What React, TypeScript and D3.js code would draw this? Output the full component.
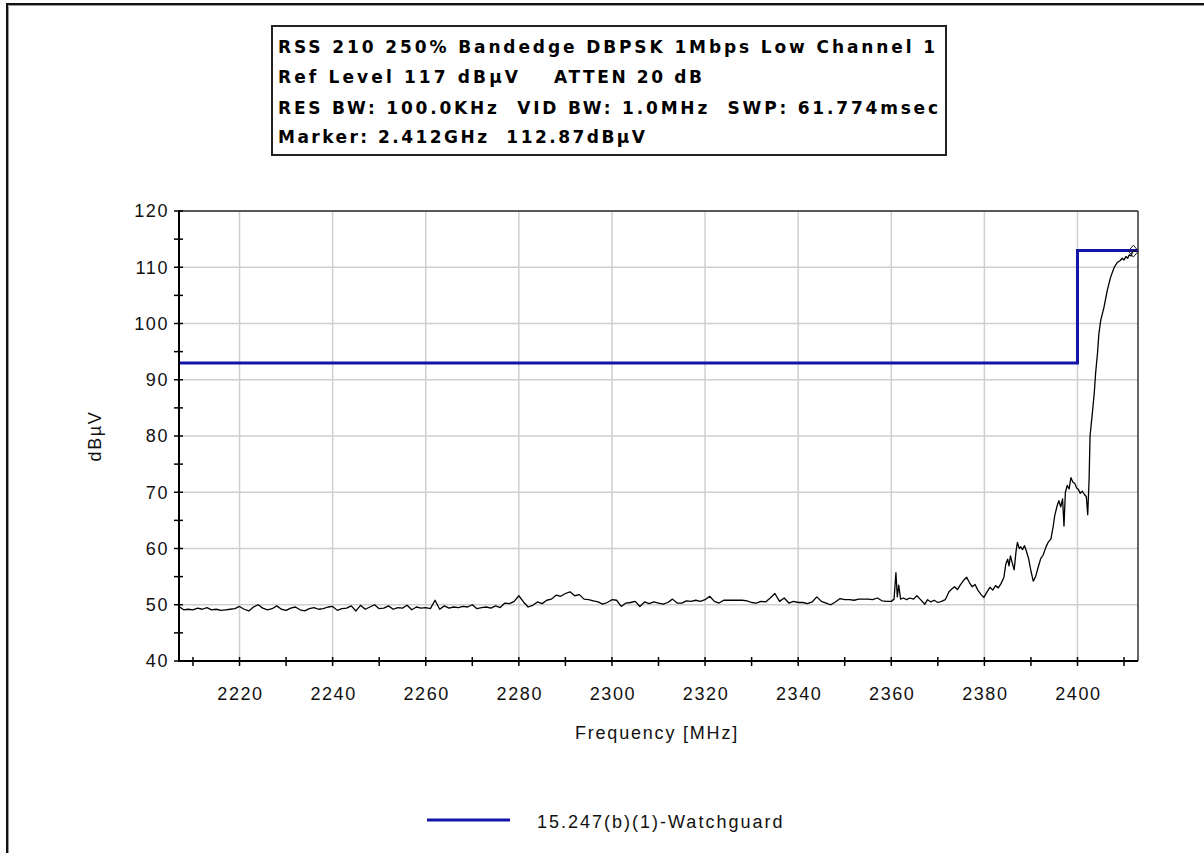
import React from "react";
import * as d3 from "d3";

// ---- Data ----
const titleLines = [
  "RSS 210 250% Bandedge DBPSK 1Mbps Low Channel 1",
  "Ref Level 117 dBµV",
  "ATTEN 20 dB",
  "RES BW: 100.0KHz\u00a0\u00a0VID BW: 1.0MHz\u00a0\u00a0SWP: 61.774msec",
  "Marker: 2.412GHz\u00a0\u00a0112.87dBµV",
];

const xTicksMajor = [2220, 2240, 2260, 2280, 2300, 2320, 2340, 2360, 2380, 2400];
const xTicksMinor = [2210, 2220, 2230, 2240, 2250, 2260, 2270, 2280, 2290, 2300, 2310, 2320, 2330, 2340, 2350, 2360, 2370, 2380, 2390, 2400, 2410];
const yTicksMajor = [40, 50, 60, 70, 80, 90, 100, 110, 120];
const yTicksMinor = [45, 55, 65, 75, 85, 95, 105, 115];

const limitFreqs = [2207, 2400, 2400, 2413];
const limitLevels = [93, 93, 113, 113];
const limitName = "15.247(b)(1)-Watchguard";

const markerFreq = 2412;
const markerLevel = 112.87;

// trace 2207..2360 MHz, 1 MHz step
const noiseStart = 2207;
const noiseLevels = [
  49.7, 49.1, 49.2, 49.1, 49.4, 49.2, 49.5, 49.1, 49.2, 49.0, 49.1, 49.2, 49.3,
  49.7, 49.2, 48.9, 49.6, 50.0, 49.4, 49.1, 49.3, 49.8, 49.2, 49.0, 49.4, 49.6, 49.1, 48.9, 49.3, 49.5, 49.2, 49.3, 49.6,
  49.7, 49.0, 49.3, 49.4, 49.8, 48.9, 49.9, 49.2, 49.6, 50.0, 49.3, 49.4, 49.8, 49.2, 49.5, 49.4, 49.9, 49.1, 49.6, 49.4,
  49.5, 49.3, 50.8, 49.2, 49.8, 49.4, 49.6, 49.5, 49.7, 49.6, 50.0, 49.3, 49.5, 49.6, 49.4, 49.8, 49.5, 50.3, 50.2, 50.6,
  51.6, 50.5, 49.6, 49.9, 50.5, 50.2, 50.8, 51.0, 51.7, 51.5, 52.0, 52.3, 51.6, 51.8, 51.0, 50.9, 50.7, 50.5, 50.1, 50.4,
  50.9, 50.8, 49.7, 50.3, 50.4, 50.6, 49.7, 50.5, 50.2, 50.5, 50.3, 50.1, 50.4, 51.0, 50.3, 50.3, 50.7, 50.6, 50.8, 50.6,
  50.9, 51.5, 50.6, 50.3, 50.8, 50.8, 50.8, 50.8, 50.8, 50.7, 50.4, 50.3, 50.6, 50.5, 51.2, 52.0, 50.6, 51.2, 50.3, 50.6,
  50.4, 50.4, 50.2, 50.5, 51.4, 50.6, 50.3, 50.0, 50.5, 51.1, 50.9, 50.9, 50.8, 51.0, 51.0, 51.0, 50.9, 51.2, 50.7, 50.6,
  50.6,
];

// band-edge part of the trace, [MHz, dBµV]
const edgeTrace: [number, number][] = [
  [2360.6, 51.0], [2361.0, 55.7], [2361.3, 51.4], [2361.6, 53.5], [2362.0, 51.0], [2362.6, 51.2],
  [2363.3, 50.9], [2364.0, 51.2], [2364.8, 51.0], [2365.5, 51.6], [2366.2, 51.0], [2367.2, 50.1],
  [2367.8, 50.9], [2368.5, 50.5], [2369.2, 50.8], [2370.0, 50.4], [2370.8, 50.6], [2371.6, 50.9],
  [2372.4, 52.3], [2373.0, 52.8], [2373.6, 53.2], [2374.2, 52.7], [2374.8, 53.5], [2375.5, 54.3],
  [2376.2, 54.9], [2376.8, 53.9], [2377.4, 53.2], [2378.0, 53.6], [2378.6, 52.6], [2379.3, 51.8],
  [2379.9, 51.3], [2380.5, 52.2], [2381.2, 53.1], [2381.8, 52.6], [2382.4, 53.4], [2383.0, 53.0],
  [2383.6, 53.8], [2384.2, 54.9], [2384.6, 57.2], [2385.0, 58.1], [2385.3, 56.9], [2385.6, 58.7],
  [2386.0, 57.4], [2386.4, 56.2], [2386.8, 59.5], [2387.1, 61.1], [2387.5, 60.0], [2387.8, 60.3],
  [2388.2, 59.8], [2388.6, 60.5], [2389.0, 59.6], [2389.5, 58.2], [2390.0, 56.0], [2390.5, 54.2],
  [2391.0, 55.0], [2391.6, 56.8], [2392.1, 58.2], [2392.6, 58.8], [2393.2, 60.2], [2393.7, 61.1],
  [2394.3, 61.7], [2394.8, 64.0], [2395.1, 65.8], [2395.6, 67.5], [2396.0, 68.5], [2396.4, 67.4],
  [2396.8, 68.8], [2397.1, 64.0], [2397.4, 70.0], [2397.8, 71.2], [2398.2, 70.6], [2398.6, 72.6],
  [2399.0, 71.8], [2399.4, 71.6], [2399.8, 70.8], [2400.2, 70.5], [2400.6, 69.8], [2401.0, 70.2],
  [2401.5, 69.6], [2401.9, 69.2], [2402.2, 66.0], [2402.5, 72.4], [2402.7, 80.0], [2403.2, 84.1],
  [2403.6, 87.6], [2403.9, 91.2], [2404.3, 94.7], [2404.6, 98.2], [2405.0, 100.6], [2405.7, 102.9],
  [2406.4, 105.9], [2407.1, 108.2], [2407.9, 110.0], [2408.6, 110.9], [2409.2, 111.2], [2409.6, 111.6],
  [2410.0, 111.3], [2410.4, 111.9], [2410.8, 111.6], [2411.1, 112.2], [2411.5, 112.0], [2411.8, 112.7],
  [2412.0, 112.87], [2412.6, 112.9],
];

const W = 1204;
const H = 853;
const LEFT = 179;
const RIGHT = 1138;
const TOP = 211;
const BOTTOM = 661;
const BLUE = "#1414a8";
const FONT = "'Liberation Sans', Arial, sans-serif";
const TITLE_FONT = "'DejaVu Sans', 'Liberation Sans', Arial, sans-serif";

export default function App() {
  const x = d3.scaleLinear().domain([2207, 2413]).range([LEFT, RIGHT]);
  const y = d3.scaleLinear().domain([40, 120]).range([BOTTOM, TOP]);

  const tracePts: [number, number][] = [
    ...noiseLevels.map((v, i) => [noiseStart + i, v] as [number, number]),
    ...edgeTrace,
  ];
  const line = d3
    .line<[number, number]>()
    .x((d) => x(d[0]))
    .y((d) => y(d[1]));
  const limitPts = limitFreqs.map((f, i) => [f, limitLevels[i]] as [number, number]);

  const mx = x(markerFreq);
  const my = y(markerLevel);

  const ls = { letterSpacing: "1.6px" };

  return (
    <div style={{ position: "absolute", left: 0, top: 0 }}>
      <svg width={W} height={H} style={{ display: "block", background: "#fff" }}>
        {/* outer frame */}
        <path d={`M7,${H} V4 H${W}`} fill="none" stroke="#111" strokeWidth={2} />
        <path d={`M8.5,${H} V5.5 H${W}`} fill="none" stroke="#9a9a9a" strokeWidth={1} />

        {/* title box */}
        <rect x={272} y={26} width={674} height={129} fill="#fff" stroke="#222" strokeWidth={2} />
        <g fontFamily={TITLE_FONT} fontWeight="bold" fontSize={17} fill="#000">
          <text x={278} y={53} textLength={657} lengthAdjust="spacing">{titleLines[0]}</text>
          <text x={278} y={83} textLength={240} lengthAdjust="spacing">{titleLines[1]}</text>
          <text x={554} y={83} textLength={148} lengthAdjust="spacing">{titleLines[2]}</text>
          <text x={278} y={114} textLength={660} lengthAdjust="spacing">{titleLines[3]}</text>
          <text x={278} y={143} textLength={367} lengthAdjust="spacing">{titleLines[4]}</text>
        </g>

        {/* grid */}
        <g stroke="#cfcfcf" strokeWidth={1.5}>
          {xTicksMajor.map((t) => (
            <line key={"gx" + t} x1={x(t)} x2={x(t)} y1={TOP} y2={BOTTOM} />
          ))}
          {yTicksMajor.filter((t) => t > 40 && t < 120).map((t) => (
            <line key={"gy" + t} x1={LEFT} x2={RIGHT} y1={y(t)} y2={y(t)} />
          ))}
        </g>

        {/* top & right borders */}
        <line x1={LEFT} x2={RIGHT} y1={TOP} y2={TOP} stroke="#222" strokeWidth={1.5} />
        <line x1={RIGHT} x2={RIGHT} y1={TOP} y2={BOTTOM} stroke="#333" strokeWidth={1.5} />

        {/* limit line */}
        <path d={line(limitPts) || ""} fill="none" stroke={BLUE} strokeWidth={3} />

        {/* trace */}
        <path d={line(tracePts) || ""} fill="none" stroke="#000" strokeWidth={1.3} strokeLinejoin="round" />

        {/* marker */}
        <path
          d={`M${mx},${my - 6} L${mx + 5},${my} L${mx},${my + 6} L${mx - 5},${my} Z`}
          fill="none"
          stroke="#222"
          strokeWidth={1}
        />

        {/* axes */}
        <line x1={LEFT} x2={LEFT} y1={TOP - 1} y2={BOTTOM + 1} stroke="#000" strokeWidth={2} />
        <line x1={LEFT - 1} x2={RIGHT} y1={BOTTOM} y2={BOTTOM} stroke="#000" strokeWidth={2} />
        <g stroke="#000" strokeWidth={1.5}>
          {[...yTicksMajor, ...yTicksMinor].map((t) => (
            <line key={"ty" + t} x1={LEFT - 5} x2={LEFT + 4} y1={y(t)} y2={y(t)} />
          ))}
          {xTicksMinor.map((t) => (
            <line key={"tx" + t} x1={x(t)} x2={x(t)} y1={BOTTOM - 4} y2={BOTTOM + 5} />
          ))}
        </g>

        <g fontFamily={FONT} fontSize={18} fill="#111">
          {yTicksMajor.map((t) => (
            <text key={"ly" + t} x={169} y={y(t)} dy="0.36em" textAnchor="end" style={ls}>
              {t}
            </text>
          ))}
          {xTicksMajor.map((t) => (
            <text key={"lx" + t} x={x(t) + 1} y={700} textAnchor="middle" style={ls}>
              {t}
            </text>
          ))}
          <text x={657} y={739} textAnchor="middle" style={{ letterSpacing: "1.8px" }}>Frequency [MHz]</text>
          <text transform={`translate(101,436) rotate(-90)`} textAnchor="middle" style={ls}>dBµV</text>
        </g>

        {/* legend */}
        <line x1={427} x2={510} y1={820} y2={820} stroke={BLUE} strokeWidth={3} />
        <text x={537} y={828} fontFamily={FONT} fontSize={18} fill="#111" style={{ letterSpacing: "2px" }}>
          {limitName}
        </text>
      </svg>
    </div>
  );
}
